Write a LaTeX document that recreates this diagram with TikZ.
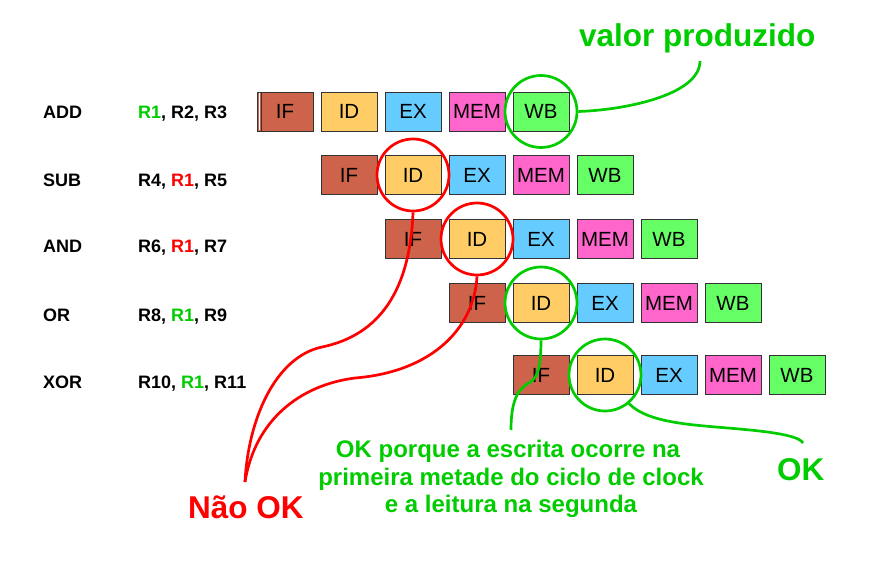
\documentclass[tikz,border=0pt]{standalone}
\usepackage{fontspec}
\setmainfont{Liberation Sans}
\definecolor{cIF}{RGB}{205,99,74}
\definecolor{cID}{RGB}{255,204,102}
\definecolor{cEX}{RGB}{102,204,255}
\definecolor{cMEM}{RGB}{255,102,204}
\definecolor{cWB}{RGB}{102,255,102}
\definecolor{okg}{RGB}{0,204,0}
\definecolor{bad}{RGB}{255,0,0}
\tikzset{
  stage/.style={draw=black!80, line width=0.9pt, minimum width=56pt, minimum height=39pt, inner sep=0pt, font=\fontsize{20.5}{24}\selectfont},
  lbl/.style={anchor=base west, inner sep=0pt, font=\fontsize{18}{20}\selectfont\bfseries},
  ring/.style={circle, draw, line width=2.7pt, minimum size=72pt, inner sep=0pt},
  okline/.style={draw=okg, line width=2.7pt},
  badline/.style={draw=bad, line width=2.7pt},
  big/.style={inner sep=0pt, font=\fontsize{31.5}{36}\selectfont\bfseries},
  para/.style={anchor=base, inner sep=0pt, text=okg, font=\fontsize{24}{28}\selectfont\bfseries}
}
\begin{document}
\begin{tikzpicture}[x=1pt,y=-1pt]
\useasboundingbox (0,0) rectangle (883,569);
% instruction labels
\node[lbl] (i0) at (43,119) {ADD};
\node[lbl] (i1) at (43,187) {SUB};
\node[lbl] (i2) at (43,253) {AND};
\node[lbl] (i3) at (43,321) {OR};
\node[lbl] (i4) at (43,388) {XOR};
\node[lbl] (o0) at (138,119) {\textcolor{okg}{R1}, R2, R3};
\node[lbl] (o1) at (138,187) {R4, \textcolor{bad}{R1}, R5};
\node[lbl] (o2) at (138,253) {R6, \textcolor{bad}{R1}, R7};
\node[lbl] (o3) at (138,321) {R8, \textcolor{okg}{R1}, R9};
\node[lbl] (o4) at (138,388) {R10, \textcolor{okg}{R1}, R11};
% pipeline stages
\foreach \r/\y in {0/111.5,1/175,2/239,3/303,4/375} {
  \foreach \s/\n in {0/IF,1/ID,2/EX,3/MEM,4/WB} {
    \node[stage, fill=c\n] (b\r\n) at ({285+64*\r+64*\s},\y) {\n};
  }
}
\draw[white, line width=1.4pt] (259.3,93) -- (259.3,130);
\draw[black!80, line width=0.9pt] (261,92) -- (261,131);
% circles
\node[ring, draw=okg] (c0) at (b0WB) {};
\node[ring, draw=bad] (c1) at (b1ID) {};
\node[ring, draw=bad] (c2) at (b2ID) {};
\node[ring, draw=okg] (c3) at (b3ID) {};
\node[ring, draw=okg] (c4) at (b4ID) {};
% texts
\node[big, anchor=base west, text=okg] (vp) at (579,47) {valor produzido};
\node[big, anchor=base west, text=bad] (nao) at (188,518) {Não OK};
\node[big, anchor=base west, text=okg] (ok) at (777,480) {OK};
\node[para] (p1) at (508,457) {OK porque a escrita ocorre na};
\node[para] (p2) at (511,485) {primeira metade do ciclo de clock};
\node[para] (p3) at (511,512) {e a leitura na segunda};
% connector ends
\coordinate (vpt) at (700,61);
\coordinate (naot) at (245,482);
\coordinate (gend) at (511,430);
\coordinate (okt) at (803,443);
% connectors
\draw[okline] (vpt) .. controls (700,95) and (625,110) .. (c0.east);
\draw[badline] (c1.south) .. controls (410,290) and (380,335) .. (322,347)
  .. controls (275,357) and (248,420) .. (naot);
\draw[badline] (c2.south) .. controls (474,330) and (430,372) .. (355,378)
  .. controls (300,385) and (255,420) .. (naot);
\draw[okline] (c3.south) .. controls (541,372) and (536,380) .. (527,384)
  .. controls (514,392) and (511,410) .. (gend);
\draw[okline] (c4.-50) .. controls (650,425) and (700,425) .. (750,430)
  .. controls (780,433) and (800,437) .. (okt);
\end{tikzpicture}
\end{document}
